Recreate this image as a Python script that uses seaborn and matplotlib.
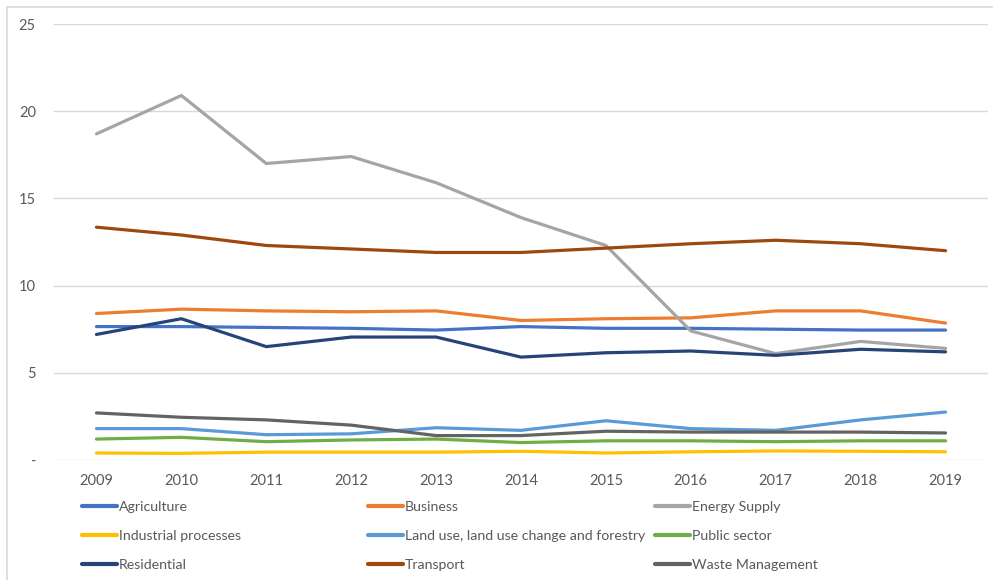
import matplotlib
matplotlib.use("Agg")
import matplotlib.pyplot as plt
import seaborn as sns
import pandas as pd
from matplotlib.lines import Line2D

years = ["2009", "2010", "2011", "2012", "2013", "2014", "2015", "2016", "2017", "2018", "2019"]

agriculture = [7.65, 7.65, 7.6, 7.55, 7.45, 7.65, 7.55, 7.55, 7.5, 7.45, 7.45]
business = [8.4, 8.65, 8.55, 8.5, 8.55, 8.0, 8.1, 8.15, 8.55, 8.55, 7.85]
energy_supply = [18.7, 20.9, 17.0, 17.4, 15.9, 13.9, 12.3, 7.4, 6.1, 6.8, 6.4]
industrial_processes = [0.4, 0.38, 0.45, 0.45, 0.45, 0.5, 0.4, 0.47, 0.52, 0.5, 0.47]
land_use = [1.8, 1.8, 1.45, 1.5, 1.85, 1.7, 2.25, 1.8, 1.7, 2.3, 2.75]
public_sector = [1.2, 1.3, 1.05, 1.15, 1.2, 1.0, 1.1, 1.1, 1.05, 1.1, 1.1]
residential = [7.2, 8.1, 6.5, 7.05, 7.05, 5.9, 6.15, 6.25, 6.0, 6.35, 6.2]
transport = [13.35, 12.9, 12.3, 12.1, 11.9, 11.9, 12.15, 12.4, 12.6, 12.4, 12.0]
waste_management = [2.7, 2.45, 2.3, 2.0, 1.4, 1.4, 1.65, 1.6, 1.6, 1.6, 1.55]

sectors = {
    "Agriculture": agriculture,
    "Business": business,
    "Energy Supply": energy_supply,
    "Industrial processes": industrial_processes,
    "Land use, land use change and forestry": land_use,
    "Public sector": public_sector,
    "Residential": residential,
    "Transport": transport,
    "Waste Management": waste_management,
}

palette = {
    "Agriculture": "#4472C4",
    "Business": "#ED7D31",
    "Energy Supply": "#A5A5A5",
    "Industrial processes": "#FFC000",
    "Land use, land use change and forestry": "#5B9BD5",
    "Public sector": "#70AD47",
    "Residential": "#264478",
    "Transport": "#9E480E",
    "Waste Management": "#636363",
}

rows = []
for name, vals in sectors.items():
    for i, (y, v) in enumerate(zip(years, vals)):
        rows.append({"pos": i, "year": y, "sector": name, "value": v})
df = pd.DataFrame(rows)

sns.set_theme(style="white")
plt.rcParams["font.family"] = ["Lato", "DejaVu Sans"]

fig = plt.figure(figsize=(9.93, 5.8), dpi=100)
ax = fig.add_axes([54 / 993, 1 - 460 / 580, (988 - 54) / 993, (460 - 24) / 580])

# light horizontal gridlines
for g in [0, 5, 10, 15, 20, 25]:
    ax.axhline(g, color="#D9D9D9", lw=1.0, zorder=0)

sns.lineplot(data=df, x="pos", y="value", hue="sector", palette=palette,
             hue_order=list(sectors.keys()), linewidth=2.3, legend=False,
             ax=ax, sort=False)
for ln in ax.get_lines():
    ln.set_solid_joinstyle("round")
    ln.set_solid_capstyle("round")

ax.set_xlim(-0.5, 10.5)
ax.set_ylim(0, 25)
ax.set_xticks(range(len(years)))
ax.set_xticklabels(years)
ax.set_yticks([0, 5, 10, 15, 20, 25])
ax.set_yticklabels(["-", "5", "10", "15", "20", "25"])
ax.tick_params(axis="both", length=0, labelsize=10.5, labelcolor="#595959")
ax.tick_params(axis="y", pad=13)
ax.tick_params(axis="x", pad=10)
ax.set_xlabel("")
ax.set_ylabel("")
for s in ax.spines.values():
    s.set_visible(False)

# legend laid out in three fixed-width columns
names = list(sectors.keys())
col_x = [82 / 993, 368 / 993, 655 / 993]
for c in range(3):
    col_names = [names[c], names[c + 3], names[c + 6]]
    handles = [Line2D([0], [0], color=palette[n], lw=3.0, solid_capstyle="round")
               for n in col_names]
    leg = fig.legend(handles, col_names, loc="upper left",
                     bbox_to_anchor=(col_x[c], 1 - 501 / 580),
                     frameon=False, fontsize=10.2, handlelength=2.5,
                     handletextpad=0.12, labelspacing=1.2,
                     borderaxespad=0, borderpad=0)
    for t in leg.get_texts():
        t.set_color("#595959")

# outer chart frame (left and top edges)
fig.add_artist(Line2D([7 / 993, 7 / 993], [0, 1 - 7 / 580], color="#D9D9D9", lw=1.2,
                      transform=fig.transFigure))
fig.add_artist(Line2D([7 / 993, 1], [1 - 7 / 580, 1 - 7 / 580], color="#D9D9D9", lw=1.2,
                      transform=fig.transFigure))

fig.savefig("out.png", dpi=100, facecolor="white")
